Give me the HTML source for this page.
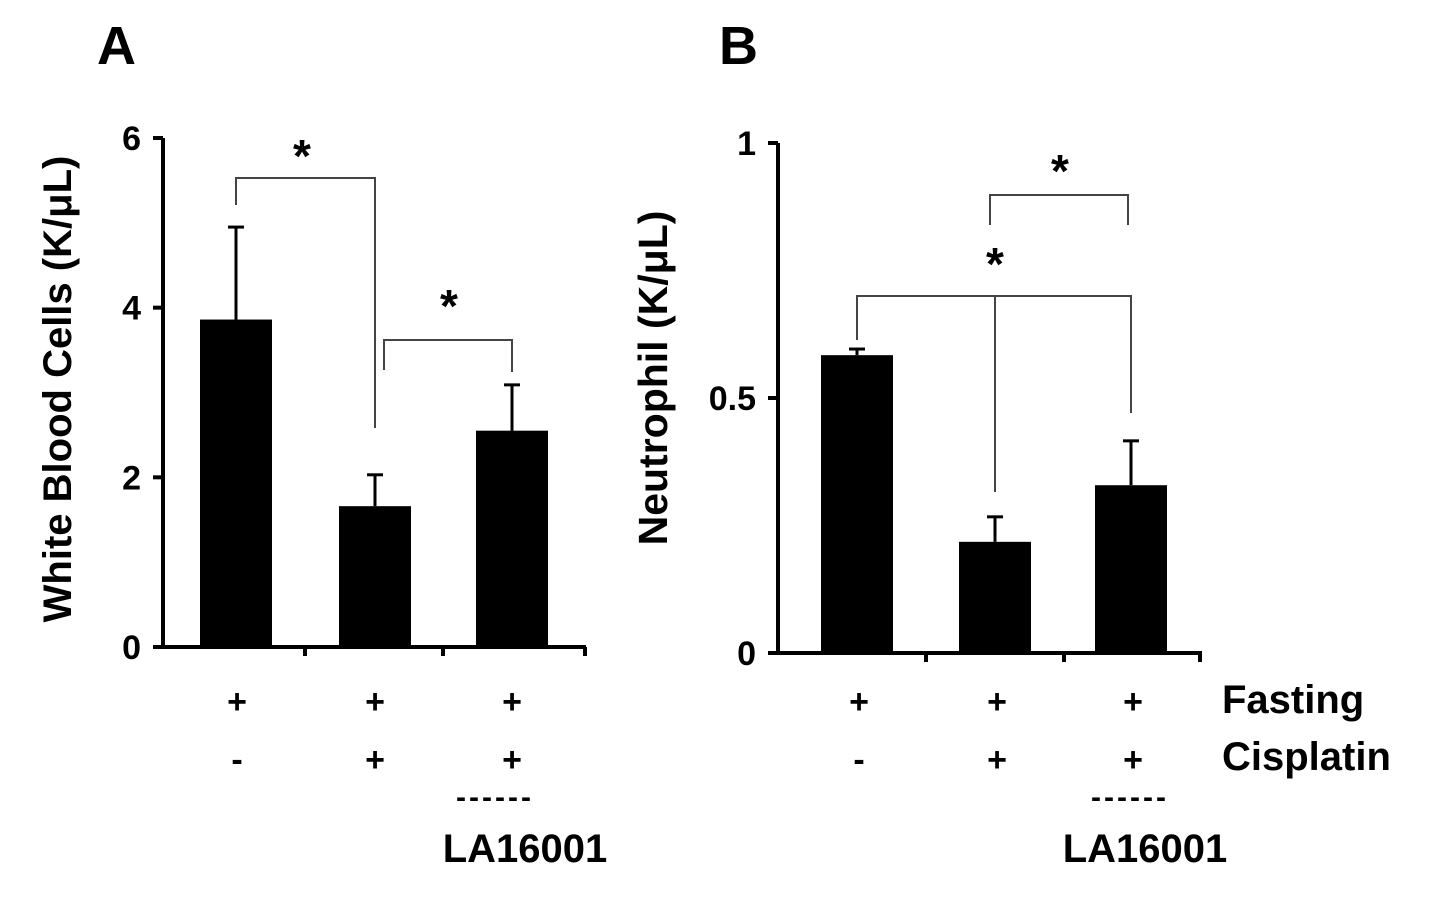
<!DOCTYPE html>
<html><head><meta charset="utf-8"><style>
body{margin:0;background:#fff;}
svg text{font-family:"Liberation Sans",Arial,sans-serif;font-weight:bold;fill:#000;}
</style></head><body>
<svg id="chart" width="1429" height="904" viewBox="0 0 1429 904" xmlns="http://www.w3.org/2000/svg">
<text x="97" y="64" font-size="54">A</text>
<text x="719" y="64" font-size="54">B</text>
<text transform="translate(71,389) rotate(-90)" text-anchor="middle" font-size="40">White Blood Cells (K/μL)</text>
<text transform="translate(667,378) rotate(-90)" text-anchor="middle" font-size="41">Neutrophil (K/μL)</text>
<g id="gA"></g><g id="gB"></g>
<g font-size="34">
<text x="237" y="713" text-anchor="middle">+</text><text x="375" y="713" text-anchor="middle">+</text><text x="512" y="713" text-anchor="middle">+</text>
<text x="237" y="771" text-anchor="middle">-</text><text x="375" y="771" text-anchor="middle">+</text><text x="512" y="771" text-anchor="middle">+</text>
<text x="495" y="807" text-anchor="middle" font-size="30" letter-spacing="3">------</text>
<text x="525" y="862" text-anchor="middle" font-size="40">LA16001</text>
<text x="859" y="713" text-anchor="middle">+</text><text x="997" y="713" text-anchor="middle">+</text><text x="1133" y="713" text-anchor="middle">+</text>
<text x="859" y="771" text-anchor="middle">-</text><text x="997" y="771" text-anchor="middle">+</text><text x="1133" y="771" text-anchor="middle">+</text>
<text x="1130" y="807" text-anchor="middle" font-size="30" letter-spacing="3">------</text>
<text x="1145" y="862" text-anchor="middle" font-size="40">LA16001</text>
<text x="1222" y="713" font-size="40">Fasting</text>
<text x="1222" y="770" font-size="40">Cisplatin</text>
</g>
</svg>
<script>
const catsA=['fasting','fasting-cisplatin','fasting-cisplatin-la16001'];
const valsA=[3.86,1.66,2.55];
const errA=[1.09,0.37,0.54];
const ticksA=[0,2,4,6];
const catsB=['fasting','fasting-cisplatin','fasting-cisplatin-la16001'];
const valsB=[0.584,0.218,0.329];
const errB=[0.012,0.049,0.087];
const ticksB=[0,0.5,1];
const tickLabelsB=['0','0.5','1'];
const NS='http://www.w3.org/2000/svg';
function mk(p,t,a){const e=document.createElementNS(NS,t);for(const k in a)e.setAttribute(k,a[k]);p.appendChild(e);return e;}
function panel(g,cfg){
 const y=v=>cfg.y0-(v/cfg.max)*(cfg.y0-cfg.yTop);
 const x=i=>cfg.xs[i];
 const ax=mk(g,'path',{d:`M${cfg.ax} ${cfg.yTop}V${cfg.y0}H${cfg.xEnd}`,stroke:'#000','stroke-width':4,fill:'none'});
 
 cfg.ticks.forEach((t,i)=>{const l=mk(g,'line',{x1:cfg.ax-10,x2:cfg.ax,y1:y(t),y2:y(t),stroke:'#000','stroke-width':4});
  
  const tx=mk(g,'text',{x:cfg.ax-22,y:y(t)+12,'text-anchor':'end','font-size':34});tx.textContent=cfg.labels[i];
  });
 cfg.xt.forEach(xx=>{const l=mk(g,'line',{x1:xx,x2:xx,y1:cfg.y0,y2:cfg.y0+9,stroke:'#000','stroke-width':4});
  });
 cfg.vals.forEach((v,i)=>{
  const e=mk(g,'line',{x1:x(i),x2:x(i),y1:y(v),y2:y(v+cfg.err[i]),stroke:'#000','stroke-width':3});
  
  const c=mk(g,'line',{x1:x(i)-8,x2:x(i)+8,y1:y(v+cfg.err[i]),y2:y(v+cfg.err[i]),stroke:'#000','stroke-width':3});
  
  const b=mk(g,'rect',{x:x(i)-36,y:y(v),width:72,height:cfg.y0-y(v),fill:'#000'});
  
 });
}
panel(document.getElementById('gA'),{y0:647,yTop:138,max:6,ax:163,xEnd:586,xs:[236,375,512],xt:[305,443,585],ticks:ticksA,labels:ticksA.map(String),vals:valsA,err:errA,cats:catsA});
panel(document.getElementById('gB'),{y0:653,yTop:143,max:1,ax:778,xEnd:1202,xs:[857,995,1131],xt:[926,1064,1200],ticks:ticksB,labels:tickLabelsB,vals:valsB,err:errB,cats:catsB});
const sv=document.getElementById('chart');
const br=mk(sv,'path',{d:'M236 205V178H375V428 M384 370V340H512V372 M857 340V296H1131V413 M995 296V492 M990 225V195H1128V225',stroke:'#444','stroke-width':2,fill:'none'});


[[302,172],[449,322],[995,280],[1060,187]].forEach(p=>{const t=mk(sv,'text',{x:p[0],y:p[1],'text-anchor':'middle','font-size':46});t.textContent='*';

});
</script>
</body></html>
